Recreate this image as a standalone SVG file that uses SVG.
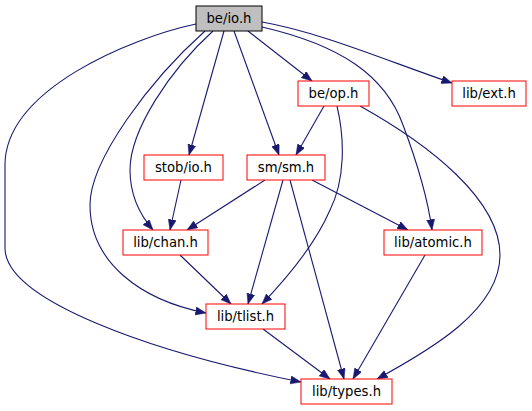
<svg xmlns="http://www.w3.org/2000/svg" width="532" height="411" viewBox="0 0 532 411">
<style>
.n rect{fill:#ffffff;stroke:#ff0000;stroke-width:1}
.n text{font-family:"DejaVu Sans",sans-serif;font-size:13.2px;fill:#000000;text-anchor:middle}
#io rect{fill:#bfbfbf;stroke:#000000}
.e path{fill:none;stroke:#191970;stroke-width:1.1;marker-end:url(#ah)}
</style>
<defs>
<marker id="ah" markerUnits="userSpaceOnUse" markerWidth="12" markerHeight="9" refX="10.5" refY="4" orient="auto">
<path d="M0,0 L10.5,4 L0,8 z" fill="#191970" stroke="#191970" stroke-width="0.5"/>
</marker>
</defs>
<rect width="532" height="411" fill="#ffffff"/>
<g id="edges" class="e">
<path d="M196,24 C130,38 5,90 5,165 L5,248 C5,300 150,352 301,382"/>
<path d="M205,31 C150,80 90,160 90,205 C90,262 140,300 206,313"/>
<path d="M213,31 C170,70 130,130 130,170 C130,195 140,215 153,230"/>
<path d="M224,31 L189,155"/>
<path d="M234,31 L279,155"/>
<path d="M248,31 L312,81"/>
<path d="M262,22 C320,32 390,62 452,83"/>
<path d="M262,27 C340,45 385,75 403,125 C418,165 428,200 432,230"/>
<path d="M324,106 L296,155"/>
<path d="M337,106 C345,140 345,180 330,210 C315,245 285,280 262,304"/>
<path d="M360,106 C430,145 500,200 500,255 C500,310 430,350 377,379"/>
<path d="M181,180 L170,230"/>
<path d="M265,180 L187,230"/>
<path d="M283,180 L248,304"/>
<path d="M290,180 L344,379"/>
<path d="M312,180 L408,230"/>
<path d="M180,255 L231,304"/>
<path d="M263,329 L330,379"/>
<path d="M425,255 L353,379"/>
</g>
<g id="io" class="n"><rect x="196" y="6" width="66" height="25"/><text x="229" y="23">be/io.h</text></g>
<g id="op" class="n"><rect x="298" y="81" width="71" height="25"/><text x="333.5" y="98">be/op.h</text></g>
<g id="ext" class="n"><rect x="452" y="81" width="74" height="25"/><text x="489" y="98">lib/ext.h</text></g>
<g id="stob" class="n"><rect x="144" y="155" width="79" height="25"/><text x="183.5" y="172">stob/io.h</text></g>
<g id="sm" class="n"><rect x="247" y="155" width="78" height="25"/><text x="286" y="172">sm/sm.h</text></g>
<g id="chan" class="n"><rect x="123" y="230" width="85" height="25"/><text x="165.5" y="247">lib/chan.h</text></g>
<g id="atomic" class="n"><rect x="384" y="230" width="98" height="25"/><text x="433" y="247">lib/atomic.h</text></g>
<g id="tlist" class="n"><rect x="206" y="304" width="79" height="25"/><text x="245.5" y="321">lib/tlist.h</text></g>
<g id="types" class="n"><rect x="301" y="379" width="91" height="25"/><text x="346.5" y="396">lib/types.h</text></g>
</svg>
